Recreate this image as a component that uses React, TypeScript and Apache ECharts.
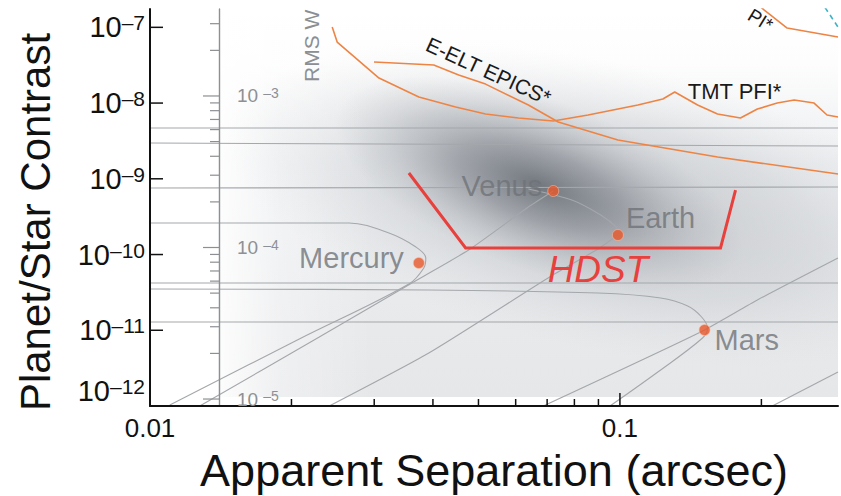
import React, { useEffect, useRef } from 'react';
import * as echarts from 'echarts';

const FONT = "'Liberation Sans', Arial, Helvetica, sans-serif";

// ---------- axis ranges ----------
const sepRange: [number, number] = [0.01, 0.2911];
const contrastRange: [number, number] = [1e-12, 1.746e-7];
const rmsRange: [number, number] = [8.995e-6, 3.75e-3];

// ---------- ticks ----------
const sepLabelTicks = [0.01, 0.1];
const sepMajorTicks = [0.1];
const sepMinorTicks = [0.02, 0.03, 0.04, 0.05, 0.06, 0.07, 0.08, 0.09, 0.2];
const contrastTicks = [1e-11, 1e-10, 1e-9, 1e-8, 1e-7];
const rmsMajorTicks = [1e-5, 1e-4, 1e-3];
const rmsMinorTicks = [
  2e-5, 3e-5, 4e-5, 5e-5, 6e-5, 7e-5, 8e-5, 9e-5,
  2e-4, 3e-4, 4e-4, 5e-4, 6e-4, 7e-4, 8e-4, 9e-4,
  2e-3, 3e-3,
];
const rmsScaleSep = 0.014; // separation where the RMS wavefront scale sits
const shadedFloor = 1.315e-12; // lower edge of the shaded panel

// ---------- planets ----------
const planetNames = ['Mercury', 'Venus', 'Earth', 'Mars'];
const planetSep = [0.03733, 0.07213, 0.099, 0.1514];
const planetContrast = [7.73e-11, 6.9e-10, 1.81e-10, 1.008e-11];

// ---------- gray phase / reference curves [sep, contrast] ----------
const curveH1 = [[0.01, 4.68e-9], [0.2911, 4.68e-9]];
const curveH2 = [[0.01, 2.97e-9], [0.2911, 2.71e-9]];
const curveH3 = [[0.01, 7.55e-10], [0.2911, 7.8e-10]];
const curveH4 = [[0.01, 4.21e-11], [0.2911, 4.21e-11]];
const curveH5 = [[0.01, 1.285e-11], [0.2911, 1.285e-11]];
const curveMercury = [
  [0.01, 2.607e-10], [0.02652, 2.607e-10], [0.03225, 1.923e-10], [0.0368, 1.257e-10],
  [0.03863, 8.99e-11], [0.03825, 6.64e-11], [0.03555, 4.08e-11], [0.02078, 7.66e-12], [0.01102, 1.03e-12],
];
const curveVenusLow = [
  [0.07213, 6.9e-10], [0.06385, 4.24e-10], [0.04764, 1.147e-10], [0.03733, 4.75e-11],
  [0.02292, 8.15e-12], [0.01276, 1e-12],
];
const curveEarthBend = [
  [0.06385, 7.33e-10], [0.0795, 5.17e-10], [0.09116, 3.3e-10], [0.0981, 2.31e-10], [0.09952, 1.866e-10],
];
const curveEarthLow = [
  [0.099, 1.81e-10], [0.08981, 1.183e-10], [0.07141, 5.21e-11], [0.0392, 5.01e-12], [0.02407, 1e-12],
];
const curveMars = [
  [0.01, 3.505e-11], [0.0392, 3.4e-11], [0.08981, 3.1e-11], [0.1221, 2.67e-11], [0.1394, 2.09e-11],
  [0.1492, 1.497e-11], [0.1536, 1.071e-11], [0.1499, 7.9e-12], [0.1204, 2.81e-12], [0.09524, 1e-12],
];
const curveDiagA = [[0.06871, 1e-12], [0.1485, 9.48e-12], [0.1961, 2.51e-11], [0.2911, 8.99e-11]];
const curveDiagB = [[0.211, 1e-12], [0.2911, 2.81e-12]];

// ---------- instrument curves ----------
const tmtPfi = [
  [0.02442, 1.009e-7], [0.02502, 6.39e-8], [0.03071, 2.14e-8], [0.03733, 1.2e-8], [0.0447, 8.86e-9],
  [0.05176, 7.17e-9], [0.0608, 6.35e-9], [0.07213, 5.79e-9], [0.08554, 6.95e-9], [0.1092, 9.42e-9],
  [0.1234, 1.13e-8], [0.1308, 1.4e-8], [0.1463, 9.42e-9], [0.1613, 7.17e-9], [0.1805, 6.35e-9],
  [0.1961, 8.34e-9], [0.2161, 1.0e-8], [0.2349, 1.1e-8], [0.2589, 1.0e-8], [0.2759, 6.95e-9], [0.2911, 6.54e-9],
];
const eeltEpics = [
  [0.02997, 3.48e-8], [0.04016, 3.18e-8], [0.04538, 2.35e-8], [0.05176, 1.78e-8], [0.06385, 9.42e-9],
  [0.0739, 5.62e-9], [0.099, 3.25e-9], [0.1613, 1.94e-9], [0.2911, 1.156e-9],
];
const gpiCurve = [[0.1914, 2.29e-7], [0.2029, 1.692e-7], [0.2269, 9.79e-8], [0.2911, 7.44e-8]];
const cyanCurve = [[0.2666, 2.29e-7], [0.2911, 1.009e-7]];
const hdstCurve = [[0.03555, 1.192e-9], [0.04694, 1.22e-10], [0.1637, 1.22e-10], [0.1762, 7.11e-10]];

// ---------- yield density shading (center, end of major axis, axis ratio) ----------
const blobCenters = [[0.08981, 4.51e-10], [0.06705, 8.28e-10]];
const blobMajorEnds = [[0.5507, 4.08e-11], [0.1796, 8.86e-11]];
const blobAxisRatio = [0.38, 0.4];

// ---------- annotations ----------
const noteTexts = ['HDST', 'E-ELT EPICS*', 'TMT PFI*', 'RMS W', 'PI*'];
const notePos = [[0.08981, 6.25e-11], [0.05252, 2.65e-8], [0.1394, 1.44e-8], [0.02204, 1.896e-8], [0.2099, 1.02e-7]];

const GRAY = '#a4a7ab';
const ORANGE = '#ee8444';

const isPow10 = (v: number) => {
  const l = Math.log10(v);
  return Math.abs(l - Math.round(l)) < 1e-6;
};
const expText = (v: number) => String(Math.round(Math.log10(v))).replace('-', '\u2013');

function line(data: number[][], color: string, width: number, extra: any = {}) {
  return {
    type: 'line', data, symbol: 'none', silent: true, xAxisIndex: 0, yAxisIndex: 0, z: 3,
    lineStyle: { color, width }, ...extra,
  };
}

function ticks(values: number[], kind: 'x' | 'y' | 'rms', len: number, color: string, width: number) {
  const data = values.map((v) => (kind === 'x' ? [v, contrastRange[0]] : kind === 'y' ? [sepRange[0], v] : [0, v]));
  return {
    type: 'custom', silent: true, z: 8,
    xAxisIndex: kind === 'rms' ? 1 : 0, yAxisIndex: kind === 'rms' ? 1 : 0,
    data,
    renderItem: (_p: any, api: any) => {
      const p = api.coord([api.value(0), api.value(1)]);
      let shape: any;
      if (kind === 'x') shape = { x1: p[0], y1: p[1], x2: p[0], y2: p[1] - len };
      else if (kind === 'y') shape = { x1: p[0], y1: p[1], x2: p[0] + len, y2: p[1] };
      else shape = { x1: p[0] - len, y1: p[1], x2: p[0], y2: p[1] };
      return { type: 'line', shape, style: { stroke: color, lineWidth: width } };
    },
  };
}

const BLOB_STOPS = [
  [
    { offset: 0, color: 'rgba(150,154,161,0.5)' },
    { offset: 0.6, color: 'rgba(172,176,182,0.26)' },
    { offset: 1, color: 'rgba(205,208,212,0)' },
  ],
  [
    { offset: 0, color: 'rgba(92,97,105,0.8)' },
    { offset: 0.4, color: 'rgba(115,120,128,0.52)' },
    { offset: 0.75, color: 'rgba(145,150,157,0.2)' },
    { offset: 1, color: 'rgba(160,164,170,0)' },
  ],
];

const planetLabel: any[] = [
  { position: 'left', distance: 9, offset: [0, -5] },
  { position: 'left', distance: 5, offset: [0, -5] },
  { position: 'right', distance: 2, offset: [0, -17] },
  { position: 'right', distance: 4, offset: [0, 10] },
];

const noteStyles: any[] = [
  { fontSize: 37, fontStyle: 'italic', fill: '#e8403d', align: 'center', rotation: 0 },
  { fontSize: 21, fill: '#1a1a1a', align: 'center', rotation: -0.4276 },
  { fontSize: 22, fill: '#1a1a1a', align: 'left', rotation: 0 },
  { fontSize: 21, fill: '#8b8e92', align: 'left', rotation: Math.PI / 2 },
  { fontSize: 19, fill: '#1a1a1a', align: 'right', rotation: -0.55 },
];

function buildOption(): any {
  return {
    animation: false,
    textStyle: { fontFamily: FONT },
    grid: [
      { left: 150, right: 0, top: 9, bottom: 90 },
      { left: 219, right: 0, top: 9, bottom: 90 },
    ],
    xAxis: [
      {
        type: 'log', gridIndex: 0, min: sepRange[0], max: sepRange[1], z: 6,
        axisLine: { show: true, onZero: false, lineStyle: { color: '#111', width: 2 } },
        axisTick: { show: false }, splitLine: { show: false },
        axisLabel: {
          margin: 9, fontSize: 26, color: '#111', fontFamily: FONT,
          formatter: (v: number) => {
            const hit = sepLabelTicks.find((t) => Math.abs(t - v) / t < 1e-6);
            return hit === undefined ? '' : String(hit);
          },
        },
      },
      { type: 'value', gridIndex: 1, min: 0, max: 1, show: false },
    ],
    yAxis: [
      {
        type: 'log', gridIndex: 0, min: contrastRange[0], max: contrastRange[1], z: 6,
        axisLine: { show: true, onZero: false, lineStyle: { color: '#111', width: 2 } },
        axisTick: { show: false }, splitLine: { show: false },
        axisLabel: {
          margin: 5, color: '#111', verticalAlignMinLabel: 'bottom',
          formatter: (v: number) => (isPow10(v) ? `{b|10}{s|${expText(v)}}` : ''),
          rich: {
            b: { fontSize: 29, fontFamily: FONT, color: '#111', lineHeight: 30 },
            s: { fontSize: 21, fontFamily: FONT, color: '#111', verticalAlign: 'top', lineHeight: 21 },
          },
        },
      },
      {
        type: 'log', gridIndex: 1, min: rmsRange[0], max: rmsRange[1], z: 6,
        axisLine: { show: true, onZero: false, lineStyle: { color: '#8d8f92', width: 1.4 } },
        axisTick: { show: false }, splitLine: { show: false },
        axisLabel: {
          inside: true, margin: 18, color: '#8d9094',
          formatter: (v: number) => (isPow10(v) ? `{b|10}{s|${expText(v)}}` : ''),
          rich: {
            b: { fontSize: 19, fontFamily: FONT, color: '#8d9094', lineHeight: 20 },
            s: { fontSize: 14, fontFamily: FONT, color: '#8d9094', verticalAlign: 'top', lineHeight: 14, padding: [0, 0, 0, 5] },
          },
        },
      },
    ],
    graphic: [
      {
        type: 'text', x: 35, y: 222, rotation: Math.PI / 2, z: 10,
        style: {
          text: 'Planet/Star Contrast', fontSize: 42, fontFamily: FONT, fill: '#111',
          align: 'center', verticalAlign: 'middle', textAlign: 'center', textVerticalAlign: 'middle',
        },
      },
      {
        type: 'text', x: 494, y: 470, z: 10,
        style: {
          text: 'Apparent Separation (arcsec)', fontSize: 45, fontFamily: FONT, fill: '#111',
          align: 'center', verticalAlign: 'middle', textAlign: 'center', textVerticalAlign: 'middle',
        },
      },
    ],
    series: [
      // shaded panel background
      {
        type: 'custom', silent: true, z: 1, xAxisIndex: 0, yAxisIndex: 0,
        data: [[rmsScaleSep, shadedFloor]],
        renderItem: (_p: any, api: any) => {
          const a = api.coord([rmsScaleSep, shadedFloor]);
          const b = api.coord([sepRange[1], contrastRange[1]]);
          const shape = { x: a[0], y: b[1], width: b[0] - a[0], height: a[1] - b[1] };
          return {
            type: 'group',
            children: [
              {
                type: 'rect', shape,
                style: {
                  fill: new echarts.graphic.LinearGradient(0, 0, 0, 1, [
                    { offset: 0, color: '#ffffff' },
                    { offset: 0.14, color: '#fdfdfd' },
                    { offset: 0.4, color: '#eceef0' },
                    { offset: 1, color: '#e6e7e9' },
                  ]),
                },
              },
              {
                type: 'rect', shape,
                style: {
                  fill: new echarts.graphic.LinearGradient(0, 0, 1, 0, [
                    { offset: 0, color: 'rgba(255,255,255,0.9)' },
                    { offset: 0.1, color: 'rgba(255,255,255,0.35)' },
                    { offset: 0.25, color: 'rgba(255,255,255,0)' },
                  ]),
                },
              },
            ],
          };
        },
      },
      // density shading
      {
        type: 'custom', silent: true, z: 1, xAxisIndex: 0, yAxisIndex: 0, clip: true,
        data: blobCenters,
        renderItem: (p: any, api: any) => {
          const i = p.dataIndex;
          const c = api.coord(blobCenters[i]);
          const e = api.coord(blobMajorEnds[i]);
          const dx = e[0] - c[0];
          const dy = e[1] - c[1];
          const R = Math.hypot(dx, dy);
          return {
            type: 'circle', x: c[0], y: c[1], rotation: Math.atan2(-dy, dx), scaleX: 1, scaleY: blobAxisRatio[i],
            shape: { cx: 0, cy: 0, r: R },
            style: { fill: new echarts.graphic.RadialGradient(0.5, 0.5, 0.5, BLOB_STOPS[i]) },
          };
        },
      },
      // gray curves
      line(curveH1, GRAY, 1.1),
      line(curveH2, GRAY, 1.1),
      line(curveH3, GRAY, 1.1),
      line(curveH4, GRAY, 1.1),
      line(curveH5, GRAY, 1.1),
      line(curveMercury, GRAY, 1.1, { smooth: 0.35 }),
      line(curveVenusLow, GRAY, 1.1, { smooth: 0.2 }),
      line(curveEarthBend, GRAY, 1.1, { smooth: 0.3 }),
      line(curveEarthLow, GRAY, 1.1, { smooth: 0.2 }),
      line(curveMars, GRAY, 1.1, { smooth: 0.35 }),
      line(curveDiagA, GRAY, 1.1, { smooth: 0.2 }),
      line(curveDiagB, GRAY, 1.1),
      // instrument curves
      line(tmtPfi, ORANGE, 1.6, { z: 4 }),
      line(eeltEpics, ORANGE, 1.6, { z: 4 }),
      line(gpiCurve, ORANGE, 1.6, { z: 4 }),
      line(cyanCurve, '#3fb3c6', 1.6, { z: 4, lineStyle: { color: '#3fb3c6', width: 1.6, type: [5, 4] } }),
      line(hdstCurve, '#e8413d', 3, { z: 5, lineStyle: { color: '#e8413d', width: 3, join: 'miter' } }),
      // planets
      {
        type: 'scatter', silent: true, z: 6, xAxisIndex: 0, yAxisIndex: 0,
        symbolSize: 11,
        itemStyle: { color: '#e8572b', borderColor: 'rgba(255,190,160,0.7)', borderWidth: 1 },
        data: planetNames.map((n, i) => ({
          name: n, value: [planetSep[i], planetContrast[i]],
          label: {
            show: true, formatter: n, fontSize: 29, color: '#6f7378', fontFamily: FONT,
            ...planetLabel[i],
          },
        })),
      },
      // annotations
      {
        type: 'custom', silent: true, z: 7, xAxisIndex: 0, yAxisIndex: 0, clip: true,
        data: notePos,
        renderItem: (p: any, api: any) => {
          const i = p.dataIndex;
          const c = api.coord(notePos[i]);
          const st = noteStyles[i];
          return {
            type: 'text', x: c[0], y: c[1], rotation: st.rotation,
            style: {
              text: noteTexts[i], fontSize: st.fontSize, fontStyle: st.fontStyle || 'normal', fontFamily: FONT,
              fill: st.fill, align: st.align, verticalAlign: 'middle', textAlign: st.align, textVerticalAlign: 'middle',
            },
          };
        },
      },
      // ticks
      ticks(sepMinorTicks, 'x', 7, '#111', 1.5),
      ticks(sepMajorTicks, 'x', 13, '#111', 1.5),
      ticks(contrastTicks, 'y', 13, '#111', 1.5),
      ticks(rmsMajorTicks, 'rms', 16, '#8d8f92', 1.2),
      ticks(rmsMinorTicks, 'rms', 9, '#8d8f92', 1.2),
    ],
  };
}

export default function App() {
  const ref = useRef<HTMLDivElement>(null);
  useEffect(() => {
    document.body.style.margin = '0';
    if (!ref.current) return;
    const chart = echarts.init(ref.current, undefined, { renderer: 'svg' });
    chart.setOption(buildOption());
    return () => chart.dispose();
  }, []);
  return <div ref={ref} style={{ width: 841, height: 496, background: '#fff' }} />;
}
